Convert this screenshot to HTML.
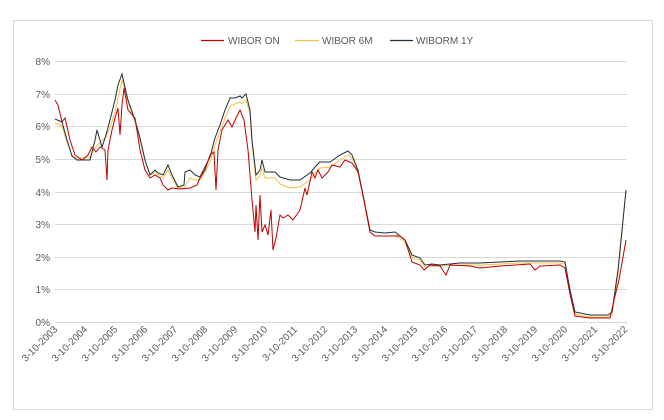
<!DOCTYPE html>
<html><head><meta charset="utf-8"><style>
body{margin:0;background:#fff;}
svg{display:block;font-family:"Liberation Sans",sans-serif;}
</style></head><body>
<svg width="664" height="420" viewBox="0 0 664 420">
<rect x="13.5" y="20.5" width="639" height="389" fill="#fff" stroke="#d9d9d9"/>
<g stroke="#d9d9d9" stroke-width="1">
<line x1="55" x2="627" y1="61.5" y2="61.5"/><line x1="55" x2="627" y1="94.5" y2="94.5"/>
<line x1="55" x2="627" y1="126.5" y2="126.5"/><line x1="55" x2="627" y1="159.5" y2="159.5"/>
<line x1="55" x2="627" y1="192.5" y2="192.5"/><line x1="55" x2="627" y1="224.5" y2="224.5"/>
<line x1="55" x2="627" y1="257.5" y2="257.5"/><line x1="55" x2="627" y1="289.5" y2="289.5"/>
<line x1="55" x2="627" y1="322.5" y2="322.5"/>
</g>
<g font-size="10" fill="#595959" text-anchor="end">
<text x="50" y="65">8%</text><text x="50" y="98">7%</text><text x="50" y="130">6%</text>
<text x="50" y="163">5%</text><text x="50" y="196">4%</text><text x="50" y="228">3%</text>
<text x="50" y="261">2%</text><text x="50" y="293">1%</text><text x="50" y="326">0%</text>
</g>
<g font-size="10" fill="#595959" text-anchor="end">
<text transform="translate(58,330) rotate(-45)">3-10-2003</text>
<text transform="translate(88,330) rotate(-45)">3-10-2004</text>
<text transform="translate(118,330) rotate(-45)">3-10-2005</text>
<text transform="translate(148,330) rotate(-45)">3-10-2006</text>
<text transform="translate(178,330) rotate(-45)">3-10-2007</text>
<text transform="translate(208,330) rotate(-45)">3-10-2008</text>
<text transform="translate(238,330) rotate(-45)">3-10-2009</text>
<text transform="translate(268,330) rotate(-45)">3-10-2010</text>
<text transform="translate(298,330) rotate(-45)">3-10-2011</text>
<text transform="translate(328,330) rotate(-45)">3-10-2012</text>
<text transform="translate(358,330) rotate(-45)">3-10-2013</text>
<text transform="translate(388,330) rotate(-45)">3-10-2014</text>
<text transform="translate(418,330) rotate(-45)">3-10-2015</text>
<text transform="translate(448,330) rotate(-45)">3-10-2016</text>
<text transform="translate(478,330) rotate(-45)">3-10-2017</text>
<text transform="translate(508,330) rotate(-45)">3-10-2018</text>
<text transform="translate(538,330) rotate(-45)">3-10-2019</text>
<text transform="translate(568,330) rotate(-45)">3-10-2020</text>
<text transform="translate(598,330) rotate(-45)">3-10-2021</text>
<text transform="translate(628,330) rotate(-45)">3-10-2022</text>
</g>
<g font-size="10" fill="#595959">
<line x1="201" x2="224" y1="40.5" y2="40.5" stroke="#c00000" stroke-width="1.2"/><text x="228" y="44">WIBOR ON</text>
<line x1="295" x2="319" y1="40.5" y2="40.5" stroke="#f2c24c" stroke-width="1.2"/><text x="322" y="44">WIBOR 6M</text>
<line x1="390" x2="413" y1="40.5" y2="40.5" stroke="#1f2d3d" stroke-width="1.2"/><text x="416" y="44">WIBORM 1Y</text>
</g>
<polyline fill="none" stroke="#f2c24c" stroke-width="1" points="55,123 62,126 67,142 72,156 77,158 83,158 90,157 95,148 100,142 106,137 110,128 115,112 118,98 122,80 124,88 128,102 135,122 140,140 145,160 150,175 155,172 158,175 163,178 168,170 172,178 178,188 184,188 190,178 195,180 200,180 205,172 210,162 215,145 220,132 225,118 230,106 235,104 240,102 242,104 246,100 250,114 252,144 256,180 260,176 262,168 265,178 275,178 280,184 290,188 300,187 310,180 316,172 320,168 330,167 340,160 348,155 352,158 358,172 364,202 370,232 375,236 385,236 395,236 400,238 405,242 412,258 420,260 425,267 432,266 440,266 460,265 480,265 500,264 520,263 540,263 560,263 565,264 570,292 575,314 590,317 608,317 612,315 618,275 626,190"/>
<polyline fill="none" stroke="#1f2d3d" stroke-width="1" points="55,119 62,122 67,140 72,156 77,160 83,160 90,160 95,140 97,130 100,140 102,147 106,135 110,120 115,100 118,85 122,74 124,83 128,100 135,120 140,138 145,160 150,175 155,170 158,173 163,175 168,165 172,175 178,187 184,185 185,172 190,170 195,175 200,177 205,167 210,157 215,138 220,125 225,110 230,98 235,98 240,96 242,98 246,94 250,110 252,140 256,175 260,170 262,160 265,172 275,172 280,177 290,180 300,180 310,173 316,166 320,162 330,162 340,155 348,151 352,155 358,170 364,200 370,230 375,232 385,233 395,232 400,236 405,240 412,255 420,258 425,265 432,264 440,265 460,263 480,263 500,262 520,261 540,261 560,261 565,262 570,290 575,312 590,315 608,315 612,312 618,270 626,190"/>
<polyline fill="none" stroke="#c00000" stroke-width="1" points="55,100 58,105 62,122 65,118 70,140 75,155 82,160 88,155 92,147 96,152 100,147 105,150 107,180 108,150 112,130 115,118 118,108 120,135 122,105 124,88 128,110 135,118 140,150 145,170 150,178 155,175 160,178 163,185 168,190 172,188 180,189 190,188 197,185 200,178 205,170 210,155 214,152 216,190 218,150 222,130 228,120 232,127 236,118 240,110 244,120 248,150 252,200 255,232 256,205 258,240 260,195 262,232 265,225 268,235 271,210 273,250 276,238 280,215 283,218 288,215 293,220 300,210 305,188 307,195 312,172 315,178 318,170 322,178 328,172 332,165 340,167 345,160 352,163 358,172 364,200 370,232 375,236 400,236 405,240 412,262 420,265 424,270 430,265 440,266 446,275 450,265 470,266 480,268 500,266 530,264 535,270 540,266 560,265 565,268 570,294 575,316 590,318 610,318 614,300 619,280 626,240"/>
</svg>
</body></html>
